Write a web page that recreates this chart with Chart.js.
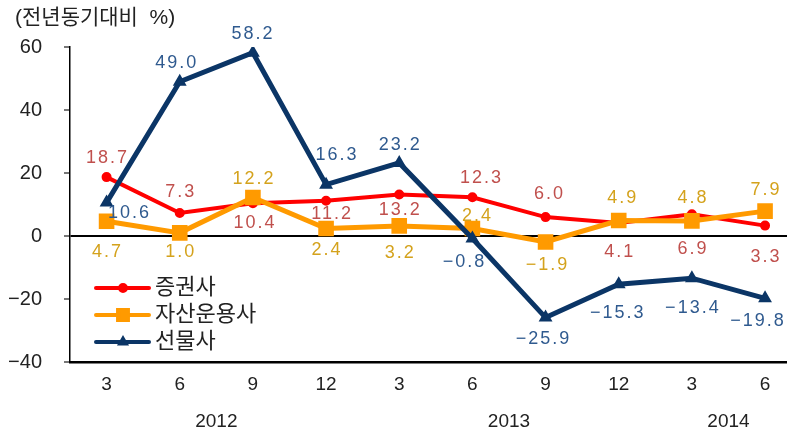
<!DOCTYPE html>
<html>
<head>
<meta charset="utf-8">
<script src="https://cdn.jsdelivr.net/npm/chart.js@4"></script>
<style>
    html, body { margin: 0; padding: 0; background: #fff; }
    #wrap { width: 787px; height: 434px; }
</style>
</head>
<body>
<div id="wrap"><canvas id="chart" width="787" height="434"></canvas></div>
<script>
// Данные графика
const categories = ['3', '6', '9', '12', '3', '6', '9', '12', '3', '6'];
const years = ['2012', '2013', '2014'];
const yearTicks = [1.5, 5.5, 8.5];
const yTicks = [-40, -20, 0, 20, 40, 60];

const seriesNames = ['증권사', '자산운용사', '선물사'];
const securities = [18.7, 7.3, 10.4, 11.2, 13.2, 12.3, 6.0, 4.1, 6.9, 3.3];
const assetMgmt = [4.7, 1.0, 12.2, 2.4, 3.2, 2.4, -1.9, 4.9, 4.8, 7.9];
const futures = [10.6, 49.0, 58.2, 16.3, 23.2, -0.8, -25.9, -15.3, -13.4, -19.8];

// Смещения подписей относительно точек
const securitiesLabelOffset = [[0, -19], [0, -21], [1, 20], [5, 13], [0, 16], [8, -19], [3, -23], [0, 29], [0, 35], [0, 31]];
const assetMgmtLabelOffset = [[0, 31], [0, 19], [0, -19], [0, 22], [0, 27], [4, -12], [1, 23], [3, -23], [0, -23], [0, -21]];
const futuresLabelOffset = [[22, 10], [-4, -19], [-1, -19], [10, -30], [0, -18], [-9, 24], [-3, 21], [-2, 29], [0, 30], [-8, 23]];

const FONT = "'Liberation Sans', Arial, 'Noto Sans CJK KR', sans-serif";

function toPoints(values) {
    return values.map((v, i) => ({x: i, y: v}));
}

function fmt(v) {
    const s = Math.abs(v).toFixed(1);
    return v < 0 ? '\u2212' + s : s;
}

// Подписи значений
const valueLabels = {
    id: 'valueLabels',
    afterDatasetsDraw(chart) {
        const ctx = chart.ctx;
        ctx.save();
        ctx.font = '18px ' + FONT;
        ctx.letterSpacing = '2px';
        ctx.textAlign = 'center';
        ctx.textBaseline = 'middle';
        chart.data.datasets.forEach((ds, di) => {
            const meta = chart.getDatasetMeta(di);
            meta.data.forEach((pt, i) => {
                const off = ds.labelOffset[i];
                ctx.fillStyle = ds.labelColor;
                ctx.fillText(fmt(ds.data[i].y), pt.x + off[0] + 1, pt.y + off[1]);
            });
        });
        ctx.restore();
    }
};

// Заголовок и легенда внутри графика
const extras = {
    id: 'extras',
    afterDraw(chart) {
        const ctx = chart.ctx;
        const area = chart.chartArea;
        ctx.save();
        ctx.fillStyle = '#222';
        ctx.font = '21px ' + FONT;
        ctx.textBaseline = 'middle';
        ctx.textAlign = 'left';
        ctx.fillText('(전년동기대비  %)', 15, 18);

        const x0 = area.left + 26;
        let y = area.bottom - 74;
        chart.data.datasets.forEach(ds => {
            ctx.strokeStyle = ds.borderColor;
            ctx.lineWidth = 4;
            ctx.lineCap = 'round';
            ctx.beginPath();
            ctx.moveTo(x0, y);
            ctx.lineTo(x0 + 53, y);
            ctx.stroke();
            ctx.fillStyle = ds.pointBackgroundColor;
            ctx.strokeStyle = ds.borderColor;
            Chart.helpers.drawPoint(ctx, {
                pointStyle: ds.pointStyle,
                radius: ds.legendRadius,
                borderWidth: 1,
                rotation: 0
            }, x0 + 27, y);
            ctx.fillStyle = '#222';
            ctx.font = '22px ' + FONT;
            ctx.fillText(ds.label, x0 + 59, y);
            y += 27;
        });
        ctx.restore();
    }
};

const ctx = document.getElementById('chart').getContext('2d');
new Chart(ctx, {
    type: 'line',
    data: {
        datasets: [
            {
                label: seriesNames[0],
                data: toPoints(securities),
                borderColor: '#ff0000',
                backgroundColor: '#ff0000',
                pointBackgroundColor: '#ff0000',
                borderWidth: 4,
                pointStyle: 'circle',
                pointRadius: 3,
                legendRadius: 3,
                labelColor: '#c0504d',
                labelOffset: securitiesLabelOffset,
                order: 2
            },
            {
                label: seriesNames[1],
                data: toPoints(assetMgmt),
                borderColor: '#ff9a00',
                backgroundColor: '#ff9a00',
                pointBackgroundColor: '#ff9a00',
                borderWidth: 5,
                pointStyle: 'rect',
                pointRadius: 7.5,
                legendRadius: 7,
                labelColor: '#d4a21c',
                labelOffset: assetMgmtLabelOffset,
                order: 1
            },
            {
                label: seriesNames[2],
                data: toPoints(futures),
                borderColor: '#0b3566',
                backgroundColor: '#0b3566',
                pointBackgroundColor: '#0b3566',
                borderWidth: 5,
                pointStyle: 'triangle',
                pointRadius: 3,
                legendRadius: 3,
                labelColor: '#2f5a8f',
                labelOffset: futuresLabelOffset,
                order: 0
            }
        ]
    },
    options: {
        responsive: false,
        animation: false,
        layout: {autoPadding: false, padding: {top: 47, right: 0, bottom: 0, left: 0}},
        plugins: {
            legend: {display: false},
            tooltip: {enabled: false},
            title: {display: false}
        },
        elements: {
            line: {tension: 0, borderCapStyle: 'round', borderJoinStyle: 'miter'},
            point: {borderWidth: 1}
        },
        scales: {
            x: {
                type: 'linear',
                position: 'bottom',
                weight: 0,
                min: -0.5,
                max: 9.3,
                grid: {display: false, drawTicks: false},
                border: {display: true, color: '#000', width: 2.5},
                afterBuildTicks: axis => {
                    axis.ticks = categories.map((c, i) => ({value: i}));
                },
                afterFit: axis => {
                    axis.height = 40;
                    axis.paddingLeft = 0;
                    axis.paddingRight = 0;
                },
                ticks: {
                    autoSkip: false,
                    maxRotation: 0,
                    padding: 11,
                    color: '#222',
                    font: {family: FONT, size: 19},
                    callback: value => categories[value]
                }
            },
            x2: {
                type: 'linear',
                position: 'bottom',
                weight: 1,
                min: -0.5,
                max: 9.3,
                grid: {display: false, drawTicks: false},
                border: {display: false},
                afterBuildTicks: axis => {
                    axis.ticks = yearTicks.map(v => ({value: v}));
                },
                afterFit: axis => {
                    axis.height = 32;
                    axis.paddingLeft = 0;
                    axis.paddingRight = 0;
                },
                ticks: {
                    autoSkip: false,
                    maxRotation: 0,
                    padding: 8,
                    color: '#222',
                    font: {family: FONT, size: 19},
                    callback: value => years[yearTicks.indexOf(value)]
                }
            },
            y: {
                min: -40,
                max: 60,
                afterBuildTicks: axis => {
                    axis.ticks = yTicks.map(v => ({value: v}));
                },
                afterFit: axis => { axis.width = 70; },
                grid: {
                    drawTicks: true,
                    tickLength: 6,
                    tickColor: '#777',
                    lineWidth: 2,
                    color: c => (c.tick && c.tick.value === 0) ? '#000' : 'rgba(0,0,0,0)'
                },
                border: {display: true, color: '#000', width: 1.5},
                ticks: {
                    padding: 22,
                    color: '#222',
                    font: {family: FONT, size: 20},
                    callback: v => v < 0 ? '\u2212' + Math.abs(v) : String(v)
                }
            }
        }
    },
    plugins: [valueLabels, extras]
});
</script>
</body>
</html>
